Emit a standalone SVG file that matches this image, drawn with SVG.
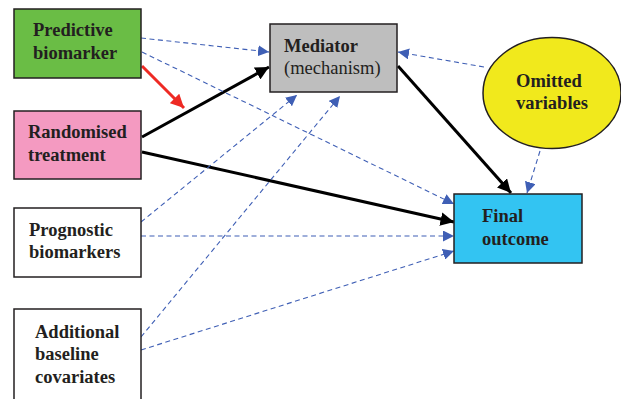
<svg xmlns="http://www.w3.org/2000/svg" width="621" height="399" viewBox="0 0 621 399">
<defs>
<style>
.box{stroke:#231f20;stroke-width:1.5}
text{font-family:'Liberation Serif','DejaVu Serif',serif;font-size:18.5px;font-weight:bold;fill:#231f20}
.tr{font-weight:normal}
.solid{stroke:#000;stroke-width:3;fill:none}
.red{stroke:#ee2a24;stroke-width:3;fill:none}
.dash{stroke:#3f5fb5;stroke-width:1.1;stroke-dasharray:5,3.5;fill:none}
</style>
<marker id="ab" viewBox="0 0 10 10" refX="10" refY="5" markerWidth="4.5" markerHeight="4.5" orient="auto" markerUnits="strokeWidth"><path d="M0,0 L10,5 L0,10 z" fill="#000"/></marker>
<marker id="ar" viewBox="0 0 10 10" refX="10" refY="5" markerWidth="4.5" markerHeight="4.5" orient="auto" markerUnits="strokeWidth"><path d="M0,0 L10,5 L0,10 z" fill="#ee2a24"/></marker>
<marker id="au" viewBox="0 0 10 10" refX="10" refY="5" markerWidth="11" markerHeight="11" orient="auto" markerUnits="userSpaceOnUse"><path d="M0,0 L10,5 L0,10 z" fill="#3f5fb5"/></marker>
</defs>
<rect width="621" height="399" fill="#fff"/>
<g id="connectors">
<line class="red" x1="142" y1="66" x2="184" y2="108" marker-end="url(#ar)"/>
<line class="solid" x1="142" y1="137" x2="269" y2="67" marker-end="url(#ab)"/>
<line class="solid" x1="142" y1="152" x2="454" y2="222" marker-end="url(#ab)"/>
<line class="solid" x1="398" y1="66" x2="511" y2="193" marker-end="url(#ab)"/>
<line class="dash" x1="141" y1="38" x2="269" y2="52" marker-end="url(#au)"/>
<line class="dash" x1="142" y1="52" x2="454" y2="204" marker-end="url(#au)"/>
<line class="dash" x1="484" y1="67" x2="398" y2="52" marker-end="url(#au)"/>
<line class="dash" x1="540" y1="151" x2="527" y2="193" marker-end="url(#au)"/>
<line class="dash" x1="141" y1="222" x2="297" y2="95" marker-end="url(#au)"/>
<line class="dash" x1="141" y1="236" x2="454" y2="236" marker-end="url(#au)"/>
<line class="dash" x1="141" y1="337" x2="340" y2="96" marker-end="url(#au)"/>
<line class="dash" x1="141" y1="350" x2="454" y2="251" marker-end="url(#au)"/>
</g>
<g id="predictive">
<rect class="box" x="14" y="9" width="127" height="69" fill="#6abd45"/>
<text x="33" y="36">Predictive</text>
<text x="33" y="59">biomarker</text>
</g>
<g id="randomised">
<rect class="box" x="14" y="111" width="127" height="68" fill="#f49ac1"/>
<text x="28" y="138">Randomised</text>
<text x="28" y="161">treatment</text>
</g>
<g id="prognostic">
<rect class="box" x="14" y="208" width="127" height="69" fill="#fff"/>
<text x="29" y="236">Prognostic</text>
<text x="29" y="258">biomarkers</text>
</g>
<g id="additional">
<rect class="box" x="14" y="309" width="127" height="100" fill="#fff"/>
<text x="35" y="338">Additional</text>
<text x="35" y="360">baseline</text>
<text x="35" y="383">covariates</text>
</g>
<g id="mediator">
<rect class="box" x="270" y="24" width="127" height="68" fill="#bebebe"/>
<text x="284" y="52">Mediator</text>
<text class="tr" x="284" y="74">(mechanism)</text>
</g>
<g id="omitted">
<ellipse class="box" cx="552" cy="93" rx="69" ry="55.5" fill="#f1e91c"/>
<text x="516" y="87">Omitted</text>
<text x="516" y="109">variables</text>
</g>
<g id="final">
<rect class="box" x="454" y="194" width="128" height="69" fill="#33c4f2"/>
<text x="482" y="222">Final</text>
<text x="482" y="245">outcome</text>
</g>
</svg>
